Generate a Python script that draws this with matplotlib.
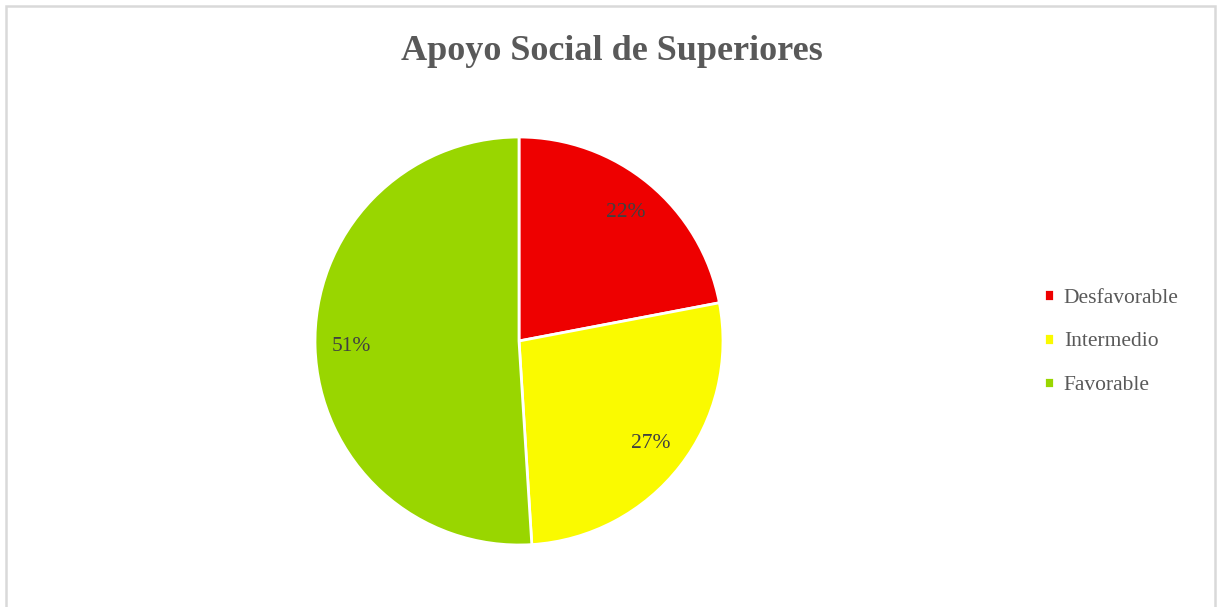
import matplotlib.pyplot as plt
from matplotlib.patches import Rectangle

categorias = ["Desfavorable", "Intermedio", "Favorable"]
porcentajes = [22, 27, 51]
colores = ["#ee0000", "#fafa00", "#99d600"]

plt.rcParams['font.family'] = ['Liberation Serif', 'DejaVu Serif']

fig = plt.figure(figsize=(12.17, 6.07), dpi=100)
W, H = 1217, 607

# chart frame
fig.patches.append(Rectangle((6 / W, -0.01), (1209 / W), (601 / H) + 0.01,
                             transform=fig.transFigure, fill=False,
                             edgecolor="#d9d9d9", linewidth=1.8))

cx, cy, r = 519, 341, 204
ax = fig.add_axes([(cx - r) / W, (H - cy - r) / H, 2 * r / W, 2 * r / H])
wedges, texts, autotexts = ax.pie(
    porcentajes, colors=colores, startangle=90, counterclock=False,
    autopct=lambda p: f"{p:.0f}%", pctdistance=0.82, radius=1,
    wedgeprops=dict(edgecolor="white", linewidth=2),
    textprops=dict(color="#404040", fontsize=15.5))
ax.set_xlim(-1, 1)
ax.set_ylim(-1, 1)
ax.set_aspect("equal")
ax.axis("off")

fig.text(612 / W, 1 - 52 / H, "Apoyo Social de Superiores", ha="center",
         va="center", fontsize=26, fontweight="bold", color="#595959")

fig.legend(wedges, categorias, loc="center left",
           bbox_to_anchor=(1025 / W, 1 - 342 / H), frameon=False,
           fontsize=15.5, labelcolor="#595959", handlelength=0.45,
           handleheight=0.45, handletextpad=0.45, labelspacing=1.15)

fig.savefig("out.png", dpi=100)
